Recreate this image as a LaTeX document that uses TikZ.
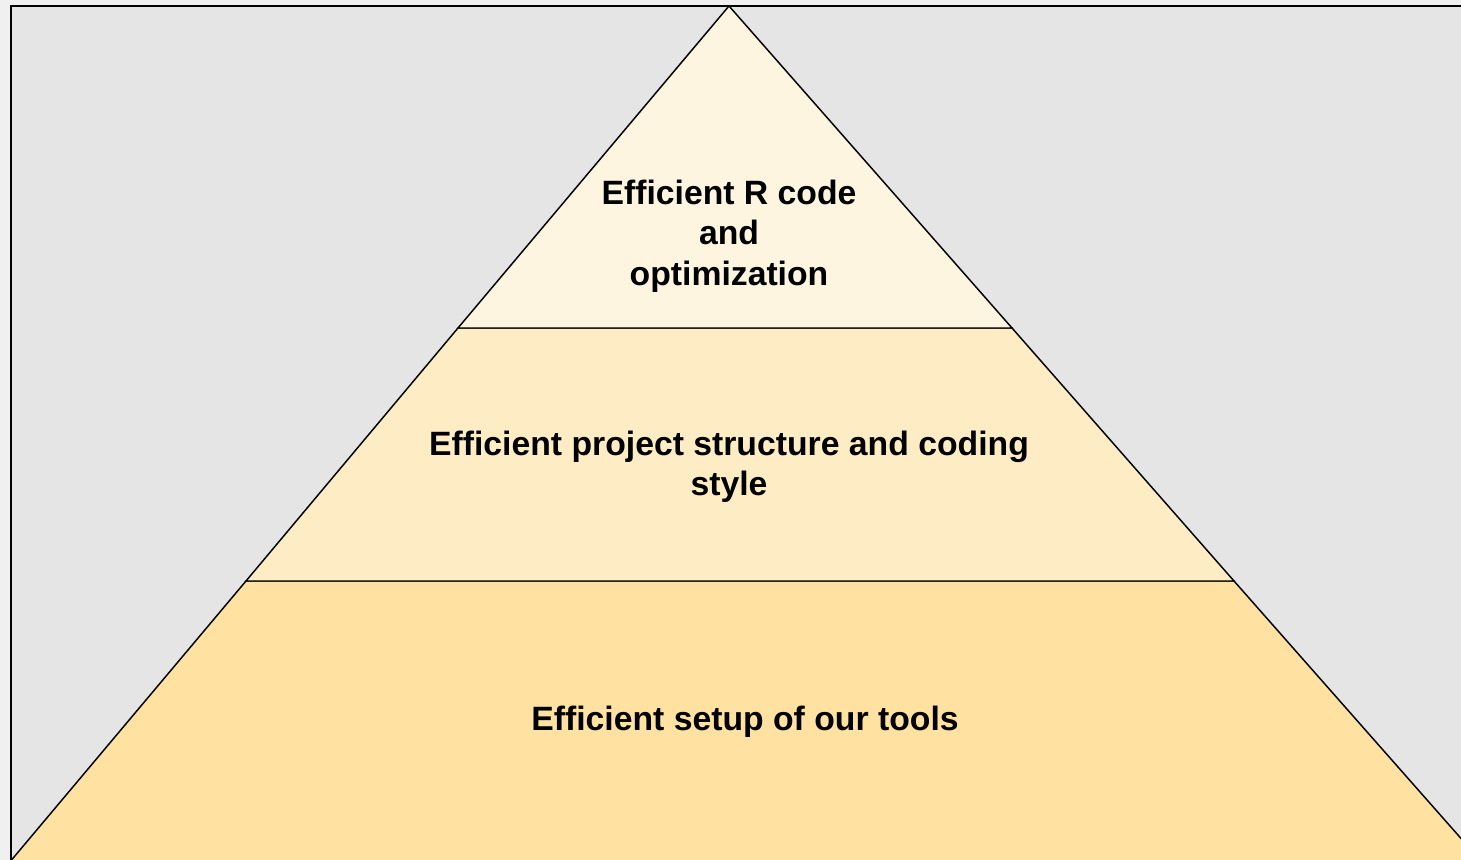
\documentclass[tikz,border=0pt]{standalone}
\usepackage{fontspec}
\setmainfont{Liberation Sans}
\usepackage{xcolor}
\usepackage{tikz}

\definecolor{pagegray}{RGB}{240,240,240}
\definecolor{boxgray}{RGB}{229,229,229}
\definecolor{tiertop}{RGB}{254,245,224}
\definecolor{tiermid}{RGB}{254,237,196}
\definecolor{tierlow}{RGB}{255,226,162}

\tikzset{
  tier/.style={draw=black, line width=1.1pt, line join=miter},
  tierlabel/.style={anchor=center, inner sep=0.75pt, align=center,
    font=\fontsize{25.3}{30.4}\selectfont\bfseries}
}

\begin{document}
\begin{tikzpicture}[x=0.75pt,y=0.75pt,yscale=-1,xscale=1]
\useasboundingbox (0,0) rectangle (1461,860);
\clip (0,0) rectangle (1461,860);
\fill [pagegray] (0,0) rectangle (1461,860);

%Shape: Rectangle [id:frame]
\draw [fill=boxgray, line width=1.6pt] (11,6) rectangle (1490,880) ;

% corners of the tiers
\coordinate (apex) at (729,6);
\coordinate (topL) at (458,328);
\coordinate (topR) at (1012,328);
\coordinate (midL) at (246,581);
\coordinate (midR) at (1234,581);
\coordinate (lowL) at (11.5,860);
\coordinate (lowR) at (1480,860);
\coordinate (baseL) at (11.5,880);
\coordinate (baseR) at (1480,880);

%Shape: Trapezoid [id:lowtier]
\draw [tier, fill=tierlow] (midL) -- (midR) -- (lowR) -- (baseR) -- (baseL) -- (lowL) -- cycle ;
%Shape: Trapezoid [id:midtier]
\draw [tier, fill=tiermid] (topL) -- (topR) -- (midR) -- (midL) -- cycle ;
%Shape: Triangle [id:toptier]
\draw [tier, fill=tiertop] (apex) -- (topR) -- (topL) -- cycle ;

% Text Node
\node [tierlabel] (toptext) at (729,236) {Efficient R code\\and\\optimization};
% Text Node
\node [tierlabel] (midtext) at (729,467) {Efficient project structure and coding\\style};
% Text Node
\node [tierlabel] (lowtext) at (745,722) {Efficient setup of our tools};

\end{tikzpicture}
\end{document}
